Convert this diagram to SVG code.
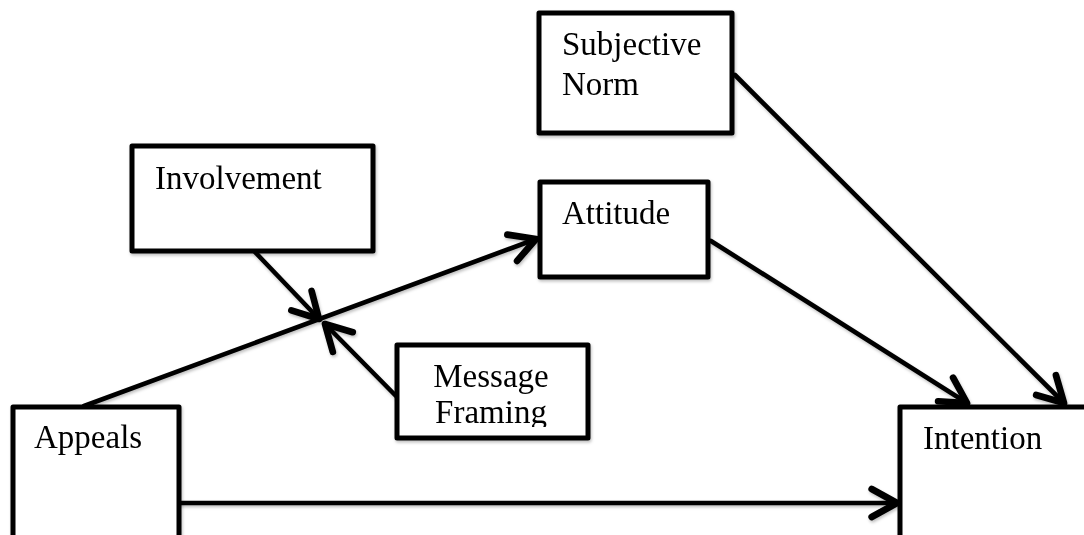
<svg xmlns="http://www.w3.org/2000/svg" width="1084" height="535" viewBox="0 0 1084 535">
  <style>
    .box { fill: #ffffff; stroke: #000000; stroke-width: 5; stroke-linejoin: round; }
    .lbl { font-family: "Liberation Serif", "Times New Roman", serif; font-size: 33px; fill: #000000; }
    .conn { stroke: #000000; stroke-width: 4.6; fill: none; stroke-linecap: round; }
  </style>
  <defs>
    <filter id="sh" x="-10%" y="-10%" width="130%" height="130%">
      <feDropShadow dx="1" dy="2" stdDeviation="1.5" flood-color="#000" flood-opacity="0.25"/>
    </filter>
    <marker id="arr" markerUnits="userSpaceOnUse" markerWidth="40" markerHeight="40" refX="0" refY="0" viewBox="-25 -15 30 30" orient="auto" overflow="visible">
      <path d="M -19 -10.5 L 0 0 L -19 10.5" fill="none" stroke="#000" stroke-width="5" stroke-linecap="round" stroke-linejoin="round"/>
    </marker>
    <clipPath id="mfclip">
      <rect x="397" y="345" width="191" height="82"/>
    </clipPath>
  </defs>
  <rect width="1084" height="535" fill="#ffffff"/>

  <g id="connectors" filter="url(#sh)">
    <line class="conn" x1="180" y1="503" x2="897" y2="503" marker-end="url(#arr)"/>
    <line class="conn" x1="84" y1="406" x2="536" y2="239" marker-end="url(#arr)"/>
    <line class="conn" x1="711" y1="241" x2="967" y2="403" marker-end="url(#arr)"/>
    <line class="conn" x1="735" y1="75" x2="1064" y2="403" marker-end="url(#arr)"/>
    <line class="conn" x1="255" y1="252" x2="319" y2="319" marker-end="url(#arr)"/>
    <line class="conn" x1="396" y1="396" x2="325" y2="324" marker-end="url(#arr)"/>
  </g>

  <g id="node-subjective-norm" filter="url(#sh)">
    <rect class="box" x="539" y="13" width="193" height="120"/>
    <text class="lbl" x="562" y="55">Subjective</text>
    <text class="lbl" x="562" y="95">Norm</text>
  </g>
  <g id="node-attitude" filter="url(#sh)">
    <rect class="box" x="540" y="182" width="168" height="95"/>
    <text class="lbl" x="562" y="224">Attitude</text>
  </g>
  <g id="node-involvement" filter="url(#sh)">
    <rect class="box" x="132" y="146" width="241" height="105"/>
    <text class="lbl" x="155" y="189">Involvement</text>
  </g>
  <g id="node-message-framing" filter="url(#sh)">
    <rect class="box" x="397" y="345" width="191" height="93"/>
    <g clip-path="url(#mfclip)">
      <text class="lbl" x="491" y="387" text-anchor="middle">Message</text>
      <text class="lbl" x="491" y="423" text-anchor="middle">Framing</text>
    </g>
  </g>
  <g id="node-appeals" filter="url(#sh)">
    <rect class="box" x="13" y="407" width="166" height="140"/>
    <text class="lbl" x="34" y="448">Appeals</text>
  </g>
  <g id="node-intention" filter="url(#sh)">
    <rect class="box" x="900" y="407" width="200" height="140"/>
    <text class="lbl" x="923" y="449">Intention</text>
  </g>
</svg>
